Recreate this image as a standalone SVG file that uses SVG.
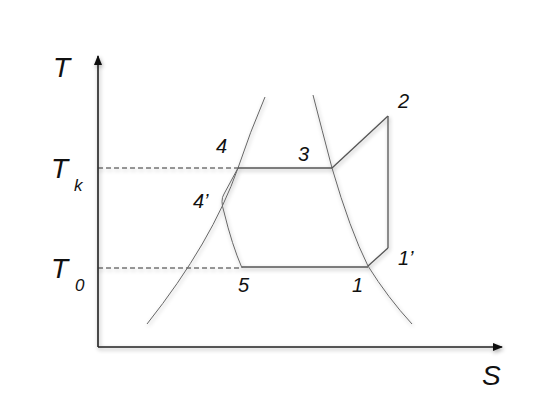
<svg xmlns="http://www.w3.org/2000/svg" width="554" height="418" viewBox="0 0 554 418">
<defs>
<style>
.lbl{font-family:"Liberation Sans",Arial,sans-serif;font-style:italic;fill:#111;}
.axis{stroke:#222;stroke-width:1.6;fill:none;}
.ln{stroke:#555;stroke-width:1.3;fill:none;}
.cv{stroke:#666;stroke-width:1;fill:none;}
.dash{stroke:#333;stroke-width:1;stroke-dasharray:5,3;fill:none;}
</style>
<marker id="arr" markerWidth="10" markerHeight="8" refX="9" refY="4" orient="auto" markerUnits="userSpaceOnUse">
<path d="M0,0 L10,4 L0,8 Z" fill="#111"/>
</marker>
<filter id="sh" x="-10%" y="-10%" width="120%" height="120%">
<feGaussianBlur in="SourceAlpha" stdDeviation="2"/>
<feOffset dx="1" dy="2" result="b"/>
<feComponentTransfer><feFuncA type="linear" slope="0.35"/></feComponentTransfer>
<feMerge><feMergeNode/><feMergeNode in="SourceGraphic"/></feMerge>
</filter>
</defs>
<rect width="554" height="418" fill="#fff"/>
<g id="axes" filter="url(#sh)">
<line class="axis" x1="98" y1="347" x2="98" y2="56" marker-end="url(#arr)"/>
<line class="axis" x1="98" y1="347" x2="502" y2="347" marker-end="url(#arr)"/>
</g>
<g id="connectors" filter="url(#sh)">
<line class="dash" x1="98" y1="168" x2="238" y2="168"/>
<line class="dash" x1="98" y1="268" x2="242" y2="268"/>
<path id="sat-left" class="cv" d="M147,324 Q212,242 238,168 Q250,132 265,97"/>
<path id="sat-right" class="cv" d="M313,95 Q322,130 332,168 Q350,230 368,266 Q388,298 412,324"/>
<path id="proc-4-5" class="cv" d="M238,168 L224,194 Q220,200 224,212 Q232,245 242,268"/>
<line class="ln" x1="238" y1="168" x2="332" y2="168"/>
<line class="ln" x1="332" y1="168" x2="388" y2="116" stroke="#777"/>
<line class="ln" x1="388" y1="116" x2="388" y2="248"/>
<line class="ln" x1="388" y1="248" x2="368" y2="266" stroke="#777"/>
<line class="ln" x1="242" y1="267" x2="368" y2="267"/>
</g>
<g id="labels">
<text class="lbl" x="53" y="77" font-size="28">T</text>
<text class="lbl" x="51" y="178" font-size="28">T</text>
<text class="lbl" x="74" y="191" font-size="17">k</text>
<text class="lbl" x="51" y="278" font-size="28">T</text>
<text class="lbl" x="75" y="291" font-size="17">0</text>
<text class="lbl" x="216" y="153" font-size="20">4</text>
<text class="lbl" x="298" y="161" font-size="20">3</text>
<text class="lbl" x="398" y="108" font-size="20">2</text>
<text class="lbl" x="193" y="208" font-size="20">4’</text>
<text class="lbl" x="398" y="265" font-size="20">1’</text>
<text class="lbl" x="238" y="292" font-size="20">5</text>
<text class="lbl" x="352" y="292" font-size="20">1</text>
<text class="lbl" x="482" y="385" font-size="28">S</text>
</g>
</svg>
